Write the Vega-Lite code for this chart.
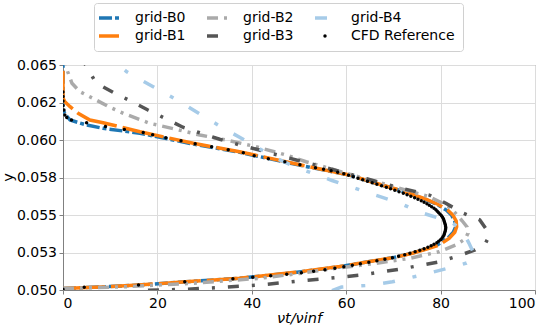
{
  "$schema": "https://vega.github.io/schema/vega-lite/v6.json",
  "autosize": {"type": "none"},
  "width": 472,
  "height": 225,
  "padding": {"left": 63, "top": 65, "right": 15, "bottom": 39},
  "config": {
    "font": "DejaVu Sans",
    "view": {"stroke": "#808080", "strokeWidth": 1},
    "axis": {
      "labelFont": "DejaVu Sans",
      "titleFont": "DejaVu Sans",
      "labelFontSize": 14,
      "titleFontSize": 14.5,
      "labelColor": "#000000",
      "titleColor": "#000000",
      "titleFontWeight": "normal",
      "domainColor": "#808080",
      "tickColor": "#808080",
      "tickSize": 4,
      "labelPadding": 2.5,
      "gridColor": "#dcdcdc",
      "gridWidth": 1
    },
    "legend": {
      "labelFont": "DejaVu Sans",
      "labelFontSize": 14,
      "labelColor": "#000000"
    }
  },
  "data": {
    "values": [
      {"series": "grid-B0", "x": 0, "y": 0.0501},
      {"series": "grid-B0", "x": 8, "y": 0.0502},
      {"series": "grid-B0", "x": 16, "y": 0.05033},
      {"series": "grid-B0", "x": 26, "y": 0.05055},
      {"series": "grid-B0", "x": 37.4, "y": 0.05078},
      {"series": "grid-B0", "x": 48.7, "y": 0.05115},
      {"series": "grid-B0", "x": 58.6, "y": 0.05155},
      {"series": "grid-B0", "x": 65, "y": 0.0519},
      {"series": "grid-B0", "x": 70, "y": 0.05216},
      {"series": "grid-B0", "x": 74, "y": 0.05246},
      {"series": "grid-B0", "x": 77, "y": 0.05276},
      {"series": "grid-B0", "x": 79.3, "y": 0.053},
      {"series": "grid-B0", "x": 81.5, "y": 0.05344},
      {"series": "grid-B0", "x": 82.7, "y": 0.05385},
      {"series": "grid-B0", "x": 83.2, "y": 0.05422},
      {"series": "grid-B0", "x": 83, "y": 0.0546},
      {"series": "grid-B0", "x": 82.3, "y": 0.055},
      {"series": "grid-B0", "x": 81.2, "y": 0.05533},
      {"series": "grid-B0", "x": 79.3, "y": 0.0557},
      {"series": "grid-B0", "x": 76.3, "y": 0.0561},
      {"series": "grid-B0", "x": 71, "y": 0.05667},
      {"series": "grid-B0", "x": 65.8, "y": 0.05715},
      {"series": "grid-B0", "x": 60.5, "y": 0.05767},
      {"series": "grid-B0", "x": 52, "y": 0.0582},
      {"series": "grid-B0", "x": 48.5, "y": 0.05843},
      {"series": "grid-B0", "x": 37.4, "y": 0.05918},
      {"series": "grid-B0", "x": 27.6, "y": 0.05973},
      {"series": "grid-B0", "x": 16.3, "y": 0.06045},
      {"series": "grid-B0", "x": 8.5, "y": 0.06078},
      {"series": "grid-B0", "x": 5, "y": 0.061},
      {"series": "grid-B0", "x": 1.5, "y": 0.06133},
      {"series": "grid-B0", "x": 0.5, "y": 0.0617},
      {"series": "grid-B0", "x": 0, "y": 0.062},
      {"series": "grid-B0", "x": 0, "y": 0.065},

      {"series": "grid-B1", "x": 0, "y": 0.0501},
      {"series": "grid-B1", "x": 8, "y": 0.0502},
      {"series": "grid-B1", "x": 16, "y": 0.05033},
      {"series": "grid-B1", "x": 26, "y": 0.05055},
      {"series": "grid-B1", "x": 37.4, "y": 0.05078},
      {"series": "grid-B1", "x": 48.7, "y": 0.05116},
      {"series": "grid-B1", "x": 58.6, "y": 0.05156},
      {"series": "grid-B1", "x": 65, "y": 0.0519},
      {"series": "grid-B1", "x": 70, "y": 0.05215},
      {"series": "grid-B1", "x": 74, "y": 0.05245},
      {"series": "grid-B1", "x": 77.2, "y": 0.05275},
      {"series": "grid-B1", "x": 79.7, "y": 0.053},
      {"series": "grid-B1", "x": 81.8, "y": 0.05344},
      {"series": "grid-B1", "x": 83, "y": 0.05385},
      {"series": "grid-B1", "x": 83.4, "y": 0.05422},
      {"series": "grid-B1", "x": 83.3, "y": 0.0546},
      {"series": "grid-B1", "x": 82.6, "y": 0.055},
      {"series": "grid-B1", "x": 81.5, "y": 0.05533},
      {"series": "grid-B1", "x": 79.5, "y": 0.0557},
      {"series": "grid-B1", "x": 76.5, "y": 0.0561},
      {"series": "grid-B1", "x": 71.2, "y": 0.05667},
      {"series": "grid-B1", "x": 66, "y": 0.05715},
      {"series": "grid-B1", "x": 60.7, "y": 0.05767},
      {"series": "grid-B1", "x": 52.2, "y": 0.05822},
      {"series": "grid-B1", "x": 48.7, "y": 0.05845},
      {"series": "grid-B1", "x": 37.4, "y": 0.05922},
      {"series": "grid-B1", "x": 27.6, "y": 0.05978},
      {"series": "grid-B1", "x": 16.3, "y": 0.06055},
      {"series": "grid-B1", "x": 8.5, "y": 0.06115},
      {"series": "grid-B1", "x": 5.7, "y": 0.06133},
      {"series": "grid-B1", "x": 3.2, "y": 0.06178},
      {"series": "grid-B1", "x": 1.5, "y": 0.06222},
      {"series": "grid-B1", "x": 0.4, "y": 0.06255},
      {"series": "grid-B1", "x": 0, "y": 0.0628},
      {"series": "grid-B1", "x": 0, "y": 0.065},

      {"series": "grid-B2", "x": 0, "y": 0.0501},
      {"series": "grid-B2", "x": 13.5, "y": 0.05022},
      {"series": "grid-B2", "x": 27.6, "y": 0.05045},
      {"series": "grid-B2", "x": 41.6, "y": 0.05078},
      {"series": "grid-B2", "x": 50, "y": 0.0511},
      {"series": "grid-B2", "x": 57.9, "y": 0.05145},
      {"series": "grid-B2", "x": 66.3, "y": 0.05178},
      {"series": "grid-B2", "x": 73.4, "y": 0.05211},
      {"series": "grid-B2", "x": 79.7, "y": 0.05255},
      {"series": "grid-B2", "x": 83.2, "y": 0.053},
      {"series": "grid-B2", "x": 85.2, "y": 0.0534},
      {"series": "grid-B2", "x": 85.8, "y": 0.05378},
      {"series": "grid-B2", "x": 85.6, "y": 0.0542},
      {"series": "grid-B2", "x": 84.6, "y": 0.0546},
      {"series": "grid-B2", "x": 83.5, "y": 0.055},
      {"series": "grid-B2", "x": 82.2, "y": 0.05545},
      {"series": "grid-B2", "x": 80, "y": 0.05585},
      {"series": "grid-B2", "x": 77.6, "y": 0.05622},
      {"series": "grid-B2", "x": 70, "y": 0.0569},
      {"series": "grid-B2", "x": 62, "y": 0.0576},
      {"series": "grid-B2", "x": 56, "y": 0.05815},
      {"series": "grid-B2", "x": 51.5, "y": 0.05855},
      {"series": "grid-B2", "x": 47.3, "y": 0.059},
      {"series": "grid-B2", "x": 40.9, "y": 0.05955},
      {"series": "grid-B2", "x": 34.6, "y": 0.06},
      {"series": "grid-B2", "x": 29, "y": 0.06033},
      {"series": "grid-B2", "x": 24, "y": 0.06071},
      {"series": "grid-B2", "x": 18.4, "y": 0.06111},
      {"series": "grid-B2", "x": 13, "y": 0.06175},
      {"series": "grid-B2", "x": 9.5, "y": 0.06225},
      {"series": "grid-B2", "x": 7.1, "y": 0.06265},
      {"series": "grid-B2", "x": 3.6, "y": 0.06322},
      {"series": "grid-B2", "x": 1.9, "y": 0.06378},
      {"series": "grid-B2", "x": 1, "y": 0.06455},
      {"series": "grid-B2", "x": 0.6, "y": 0.065},

      {"series": "grid-B3", "x": 18, "y": 0.04998},
      {"series": "grid-B3", "x": 26.2, "y": 0.05005},
      {"series": "grid-B3", "x": 33.9, "y": 0.05018},
      {"series": "grid-B3", "x": 41.6, "y": 0.05033},
      {"series": "grid-B3", "x": 50.1, "y": 0.0506},
      {"series": "grid-B3", "x": 58.6, "y": 0.05085},
      {"series": "grid-B3", "x": 63.1, "y": 0.051},
      {"series": "grid-B3", "x": 71.2, "y": 0.05138},
      {"series": "grid-B3", "x": 79.3, "y": 0.05185},
      {"series": "grid-B3", "x": 83.2, "y": 0.05222},
      {"series": "grid-B3", "x": 87.3, "y": 0.05267},
      {"series": "grid-B3", "x": 89.5, "y": 0.0531},
      {"series": "grid-B3", "x": 90.2, "y": 0.05355},
      {"series": "grid-B3", "x": 89.8, "y": 0.054},
      {"series": "grid-B3", "x": 88.3, "y": 0.05467},
      {"series": "grid-B3", "x": 84.6, "y": 0.05515},
      {"series": "grid-B3", "x": 81.1, "y": 0.05578},
      {"series": "grid-B3", "x": 77.6, "y": 0.05633},
      {"series": "grid-B3", "x": 69, "y": 0.057},
      {"series": "grid-B3", "x": 60.7, "y": 0.05773},
      {"series": "grid-B3", "x": 54, "y": 0.0583},
      {"series": "grid-B3", "x": 49.4, "y": 0.05867},
      {"series": "grid-B3", "x": 45.5, "y": 0.059},
      {"series": "grid-B3", "x": 41.6, "y": 0.05933},
      {"series": "grid-B3", "x": 37.4, "y": 0.05967},
      {"series": "grid-B3", "x": 33.2, "y": 0.06005},
      {"series": "grid-B3", "x": 29.3, "y": 0.06045},
      {"series": "grid-B3", "x": 25.4, "y": 0.06085},
      {"series": "grid-B3", "x": 21.6, "y": 0.06145},
      {"series": "grid-B3", "x": 18, "y": 0.062},
      {"series": "grid-B3", "x": 14.2, "y": 0.06262},
      {"series": "grid-B3", "x": 10.6, "y": 0.06318},
      {"series": "grid-B3", "x": 7, "y": 0.0638},
      {"series": "grid-B3", "x": 5, "y": 0.0649},
      {"series": "grid-B3", "x": 4.6, "y": 0.0651},

      {"series": "grid-B4", "x": 57, "y": 0.04995},
      {"series": "grid-B4", "x": 59, "y": 0.0502},
      {"series": "grid-B4", "x": 64.5, "y": 0.0503},
      {"series": "grid-B4", "x": 69.8, "y": 0.05055},
      {"series": "grid-B4", "x": 76, "y": 0.051},
      {"series": "grid-B4", "x": 81.8, "y": 0.05147},
      {"series": "grid-B4", "x": 85.5, "y": 0.0518},
      {"series": "grid-B4", "x": 87.3, "y": 0.0521},
      {"series": "grid-B4", "x": 86.8, "y": 0.0526},
      {"series": "grid-B4", "x": 86, "y": 0.05313},
      {"series": "grid-B4", "x": 84.5, "y": 0.054},
      {"series": "grid-B4", "x": 82.2, "y": 0.05455},
      {"series": "grid-B4", "x": 78, "y": 0.05495},
      {"series": "grid-B4", "x": 75.5, "y": 0.0552},
      {"series": "grid-B4", "x": 71.3, "y": 0.0558},
      {"series": "grid-B4", "x": 65, "y": 0.05645},
      {"series": "grid-B4", "x": 57, "y": 0.0573},
      {"series": "grid-B4", "x": 49.4, "y": 0.05818},
      {"series": "grid-B4", "x": 44.4, "y": 0.0589},
      {"series": "grid-B4", "x": 39.1, "y": 0.05989},
      {"series": "grid-B4", "x": 33.9, "y": 0.0608},
      {"series": "grid-B4", "x": 29, "y": 0.06173},
      {"series": "grid-B4", "x": 24, "y": 0.0627},
      {"series": "grid-B4", "x": 19.1, "y": 0.06355},
      {"series": "grid-B4", "x": 13.5, "y": 0.06455},
      {"series": "grid-B4", "x": 11.5, "y": 0.06505},

      {"series": "CFD Reference", "x": 0, "y": 0.05005},
      {"series": "CFD Reference", "x": 4.5, "y": 0.05018},
      {"series": "CFD Reference", "x": 16, "y": 0.05033},
      {"series": "CFD Reference", "x": 25.8, "y": 0.05055},
      {"series": "CFD Reference", "x": 36, "y": 0.05075},
      {"series": "CFD Reference", "x": 40.2, "y": 0.05085},
      {"series": "CFD Reference", "x": 44, "y": 0.05095},
      {"series": "CFD Reference", "x": 47.4, "y": 0.05105},
      {"series": "CFD Reference", "x": 50.5, "y": 0.05115},
      {"series": "CFD Reference", "x": 53.1, "y": 0.05125},
      {"series": "CFD Reference", "x": 55.5, "y": 0.05135},
      {"series": "CFD Reference", "x": 57.6, "y": 0.05145},
      {"series": "CFD Reference", "x": 59.5, "y": 0.05155},
      {"series": "CFD Reference", "x": 61.3, "y": 0.05165},
      {"series": "CFD Reference", "x": 63, "y": 0.05175},
      {"series": "CFD Reference", "x": 64.8, "y": 0.05185},
      {"series": "CFD Reference", "x": 66.5, "y": 0.05195},
      {"series": "CFD Reference", "x": 68.2, "y": 0.05205},
      {"series": "CFD Reference", "x": 69.8, "y": 0.05215},
      {"series": "CFD Reference", "x": 71.1, "y": 0.05225},
      {"series": "CFD Reference", "x": 72.4, "y": 0.05235},
      {"series": "CFD Reference", "x": 73.5, "y": 0.05245},
      {"series": "CFD Reference", "x": 74.6, "y": 0.05255},
      {"series": "CFD Reference", "x": 75.6, "y": 0.05265},
      {"series": "CFD Reference", "x": 76.5, "y": 0.05275},
      {"series": "CFD Reference", "x": 77.3, "y": 0.05285},
      {"series": "CFD Reference", "x": 78, "y": 0.05295},
      {"series": "CFD Reference", "x": 78.6, "y": 0.05305},
      {"series": "CFD Reference", "x": 79.2, "y": 0.05315},
      {"series": "CFD Reference", "x": 79.6, "y": 0.05325},
      {"series": "CFD Reference", "x": 80, "y": 0.05335},
      {"series": "CFD Reference", "x": 80.3, "y": 0.05345},
      {"series": "CFD Reference", "x": 80.5, "y": 0.05355},
      {"series": "CFD Reference", "x": 80.7, "y": 0.05365},
      {"series": "CFD Reference", "x": 80.8, "y": 0.05375},
      {"series": "CFD Reference", "x": 80.9, "y": 0.05385},
      {"series": "CFD Reference", "x": 81, "y": 0.05395},
      {"series": "CFD Reference", "x": 81.05, "y": 0.05405},
      {"series": "CFD Reference", "x": 81.1, "y": 0.05415},
      {"series": "CFD Reference", "x": 81.05, "y": 0.05425},
      {"series": "CFD Reference", "x": 81, "y": 0.05435},
      {"series": "CFD Reference", "x": 80.9, "y": 0.05445},
      {"series": "CFD Reference", "x": 80.8, "y": 0.05455},
      {"series": "CFD Reference", "x": 80.7, "y": 0.05465},
      {"series": "CFD Reference", "x": 80.6, "y": 0.05475},
      {"series": "CFD Reference", "x": 80.4, "y": 0.05485},
      {"series": "CFD Reference", "x": 80.2, "y": 0.05495},
      {"series": "CFD Reference", "x": 79.9, "y": 0.05505},
      {"series": "CFD Reference", "x": 79.6, "y": 0.05515},
      {"series": "CFD Reference", "x": 79.3, "y": 0.05525},
      {"series": "CFD Reference", "x": 79, "y": 0.05535},
      {"series": "CFD Reference", "x": 78.6, "y": 0.05545},
      {"series": "CFD Reference", "x": 78.1, "y": 0.05555},
      {"series": "CFD Reference", "x": 77.6, "y": 0.05565},
      {"series": "CFD Reference", "x": 77.1, "y": 0.05575},
      {"series": "CFD Reference", "x": 76.5, "y": 0.05585},
      {"series": "CFD Reference", "x": 75.9, "y": 0.05595},
      {"series": "CFD Reference", "x": 75.2, "y": 0.05605},
      {"series": "CFD Reference", "x": 74.5, "y": 0.05615},
      {"series": "CFD Reference", "x": 73.7, "y": 0.05625},
      {"series": "CFD Reference", "x": 72.9, "y": 0.05635},
      {"series": "CFD Reference", "x": 72.1, "y": 0.05645},
      {"series": "CFD Reference", "x": 71.2, "y": 0.05655},
      {"series": "CFD Reference", "x": 70.3, "y": 0.05665},
      {"series": "CFD Reference", "x": 69.4, "y": 0.05675},
      {"series": "CFD Reference", "x": 68.5, "y": 0.05685},
      {"series": "CFD Reference", "x": 67.5, "y": 0.05695},
      {"series": "CFD Reference", "x": 66.5, "y": 0.05705},
      {"series": "CFD Reference", "x": 65.5, "y": 0.05715},
      {"series": "CFD Reference", "x": 64.5, "y": 0.05725},
      {"series": "CFD Reference", "x": 63.5, "y": 0.05735},
      {"series": "CFD Reference", "x": 62.5, "y": 0.05745},
      {"series": "CFD Reference", "x": 61.5, "y": 0.05755},
      {"series": "CFD Reference", "x": 60.5, "y": 0.05765},
      {"series": "CFD Reference", "x": 59.5, "y": 0.05775},
      {"series": "CFD Reference", "x": 58.2, "y": 0.05785},
      {"series": "CFD Reference", "x": 56.8, "y": 0.05795},
      {"series": "CFD Reference", "x": 55.2, "y": 0.05805},
      {"series": "CFD Reference", "x": 53.5, "y": 0.05815},
      {"series": "CFD Reference", "x": 50.2, "y": 0.05835},
      {"series": "CFD Reference", "x": 47, "y": 0.05855},
      {"series": "CFD Reference", "x": 43.5, "y": 0.05875},
      {"series": "CFD Reference", "x": 40.5, "y": 0.05895},
      {"series": "CFD Reference", "x": 38.2, "y": 0.05915},
      {"series": "CFD Reference", "x": 35, "y": 0.05935},
      {"series": "CFD Reference", "x": 31.5, "y": 0.05955},
      {"series": "CFD Reference", "x": 28, "y": 0.05975},
      {"series": "CFD Reference", "x": 25, "y": 0.05995},
      {"series": "CFD Reference", "x": 21.8, "y": 0.06015},
      {"series": "CFD Reference", "x": 19, "y": 0.06035},
      {"series": "CFD Reference", "x": 17, "y": 0.0605},
      {"series": "CFD Reference", "x": 13, "y": 0.0607},
      {"series": "CFD Reference", "x": 9, "y": 0.0609},
      {"series": "CFD Reference", "x": 5, "y": 0.06115},
      {"series": "CFD Reference", "x": 1.8, "y": 0.06133},
      {"series": "CFD Reference", "x": 0.8, "y": 0.0615},
      {"series": "CFD Reference", "x": 0.4, "y": 0.06167},
      {"series": "CFD Reference", "x": 0.2, "y": 0.062},
      {"series": "CFD Reference", "x": 0, "y": 0.0623},
      {"series": "CFD Reference", "x": 0, "y": 0.0626},
      {"series": "CFD Reference", "x": 0, "y": 0.0629},
      {"series": "CFD Reference", "x": 0, "y": 0.0632}
    ]
  },
  "encoding": {
    "x": {
      "field": "x",
      "type": "quantitative",
      "scale": {"domain": [0, 100], "nice": false, "zero": false},
      "axis": {
        "values": [0, 20, 40, 60, 80, 100],
        "title": "νt/νinf",
        "titleFontStyle": "italic",
        "titlePadding": 1,
        "grid": true
      }
    },
    "y": {
      "field": "y",
      "type": "quantitative",
      "scale": {"domain": [0.05, 0.065], "nice": false, "zero": false},
      "axis": {
        "values": [0.05, 0.0525, 0.055, 0.0575, 0.06, 0.0625, 0.065],
        "labelExpr": "datum.value < 0.051 ? '0.050' : datum.value < 0.053 ? '0.053' : datum.value < 0.056 ? '0.055' : datum.value < 0.058 ? '0.058' : datum.value < 0.061 ? '0.060' : datum.value < 0.063 ? '0.062' : '0.065'",
        "title": "y",
        "titleAngle": -90,
        "titleX": -51,
        "titleY": 112,
        "titleAlign": "center",
        "titleBaseline": "alphabetic",
        "grid": true
      }
    },
    "color": {
      "field": "series",
      "type": "nominal",
      "scale": {
        "domain": ["grid-B0", "grid-B2", "grid-B4", "grid-B1", "grid-B3", "CFD Reference"],
        "range": ["#1f77b4", "#aaaaaa", "#a6cbe8", "#ff7f0e", "#555555", "#000000"]
      },
      "legend": {
        "title": null,
        "orient": "none",
        "legendX": 31,
        "legendY": -62,
        "columns": 3,
        "direction": "horizontal",
        "padding": 8,
        "fillColor": "#ffffff",
        "strokeColor": "#d0d0d0",
        "cornerRadius": 3,
        "symbolType": "stroke",
        "symbolSize": 400,
        "symbolStrokeWidth": 3,
        "labelOffset": 19,
        "columnPadding": 14,
        "rowPadding": 4,
        "encode": {
          "symbols": {
            "update": {
              "shape": {"signal": "datum.value === 'CFD Reference' ? 'circle' : 'stroke'"},
              "size": {"signal": "datum.value === 'CFD Reference' ? 12 : 400"},
              "strokeWidth": {"signal": "datum.value === 'CFD Reference' ? 0 : 3.5"},
              "fill": {"signal": "datum.value === 'CFD Reference' ? '#000000' : 'transparent'"},
              "opacity": {"value": 1}
            }
          }
        }
      }
    }
  },
  "layer": [
    {
      "transform": [{"filter": "datum.series !== 'CFD Reference'"}],
      "mark": {"type": "line", "strokeWidth": 3.5, "clip": true},
      "encoding": {
        "order": {"field": "y", "type": "quantitative"},
        "strokeDash": {
          "field": "series",
          "type": "nominal",
          "scale": {
            "domain": ["grid-B0", "grid-B2", "grid-B4", "grid-B1", "grid-B3", "CFD Reference"],
            "range": [[13, 3, 4, 3], [11, 6, 3, 6, 3, 6], [12, 18, 4, 18], [42, 6], [11, 13, 3, 13], [1, 0]]
          },
          "legend": {
            "title": null,
            "orient": "none",
            "legendX": 31,
            "legendY": -62,
            "columns": 3,
            "direction": "horizontal",
            "padding": 8,
            "fillColor": "#ffffff",
            "strokeColor": "#d0d0d0",
            "cornerRadius": 3,
            "symbolType": "stroke",
            "symbolSize": 400,
            "symbolStrokeWidth": 3,
            "labelOffset": 19,
            "columnPadding": 14,
            "rowPadding": 4,
            "encode": {
              "symbols": {
                "update": {
                  "shape": {"signal": "datum.value === 'CFD Reference' ? 'circle' : 'stroke'"},
                  "size": {"signal": "datum.value === 'CFD Reference' ? 12 : 400"},
                  "strokeWidth": {"signal": "datum.value === 'CFD Reference' ? 0 : 3.5"},
                  "fill": {"signal": "datum.value === 'CFD Reference' ? '#000000' : 'transparent'"},
                  "opacity": {"value": 1}
                }
              }
            }
          }
        }
      }
    },
    {
      "transform": [{"filter": "datum.series === 'CFD Reference'"}],
      "mark": {"type": "point", "filled": true, "size": 12, "opacity": 1, "clip": true}
    }
  ]
}
